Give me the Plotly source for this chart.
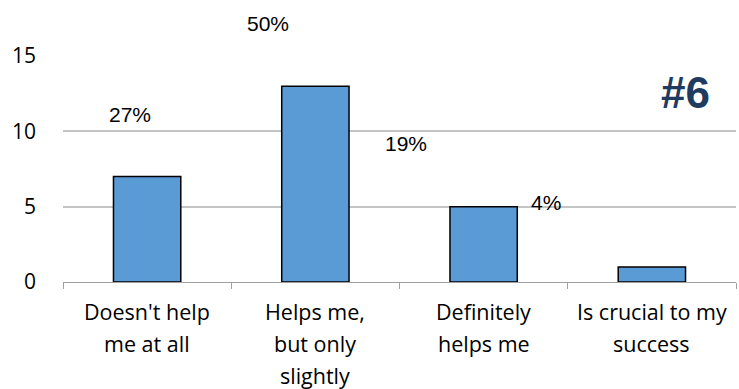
import plotly.graph_objects as go

categories = ["Doesn't help<br>me at all", "Helps me,<br>but only<br>slightly", "Definitely<br>helps me", "Is crucial to my<br>success"]
values = [7, 13, 5, 1]
pct_labels = ["27%", "50%", "19%", "4%"]
pct_x = [-0.1, 0.72, 1.54, 2.37]
pct_y = [0.739, 1.146, 0.615, 0.35]
y_ticks = [0, 5, 10, 15]

fig = go.Figure()
fig.add_trace(go.Bar(
    x=categories, y=values,
    marker=dict(color="#5B9BD5", line=dict(color="#000000", width=1.5)),
))

for t, xx, yy in zip(pct_labels, pct_x, pct_y):
    fig.add_annotation(x=xx, y=yy, xref="x", yref="paper", text=t, showarrow=False,
                       xanchor="center", yanchor="middle",
                       font=dict(family="Liberation Sans, Arial", size=21, color="#000000"))

# category labels, one line per annotation to mimic the original line spacing
for i, cat in enumerate(categories):
    for k, line in enumerate(cat.split("<br>")):
        fig.add_annotation(x=i, y=0, xref="x", yref="paper", text=line, showarrow=False,
                           xanchor="center", yanchor="middle", yshift=-(29 + 32 * k),
                           borderpad=0,
                           font=dict(family="Open Sans", size=21.5, color="#000000"))

fig.add_annotation(x=0.925, y=0.84, xref="paper", yref="paper", text="<b>#6</b>", showarrow=False,
                   xanchor="center", yanchor="middle",
                   font=dict(family="Liberation Sans, Arial", size=44, color="#1F3B5E"))

fig.update_layout(
    width=739, height=389,
    margin=dict(l=63, r=3, t=56, b=107),
    paper_bgcolor="white", plot_bgcolor="white",
    showlegend=False,
    bargap=0.6,
)
fig.update_xaxes(
    type="category", showticklabels=False,
    tickson="boundaries",
    showline=True, linecolor="#A0A0A0", linewidth=1,
    ticks="outside", ticklen=6, tickcolor="#A0A0A0",
    showgrid=False, zeroline=False,
)
fig.update_yaxes(
    range=[0, 15], tickvals=y_ticks,
    showgrid=True, gridcolor="#C4C4C4", gridwidth=1.5,
    zeroline=False, showline=False,
    ticklabelstandoff=26,
    tickfont=dict(family="Open Sans", size=21, color="#000000"),
)
fig.write_html("out.html")
